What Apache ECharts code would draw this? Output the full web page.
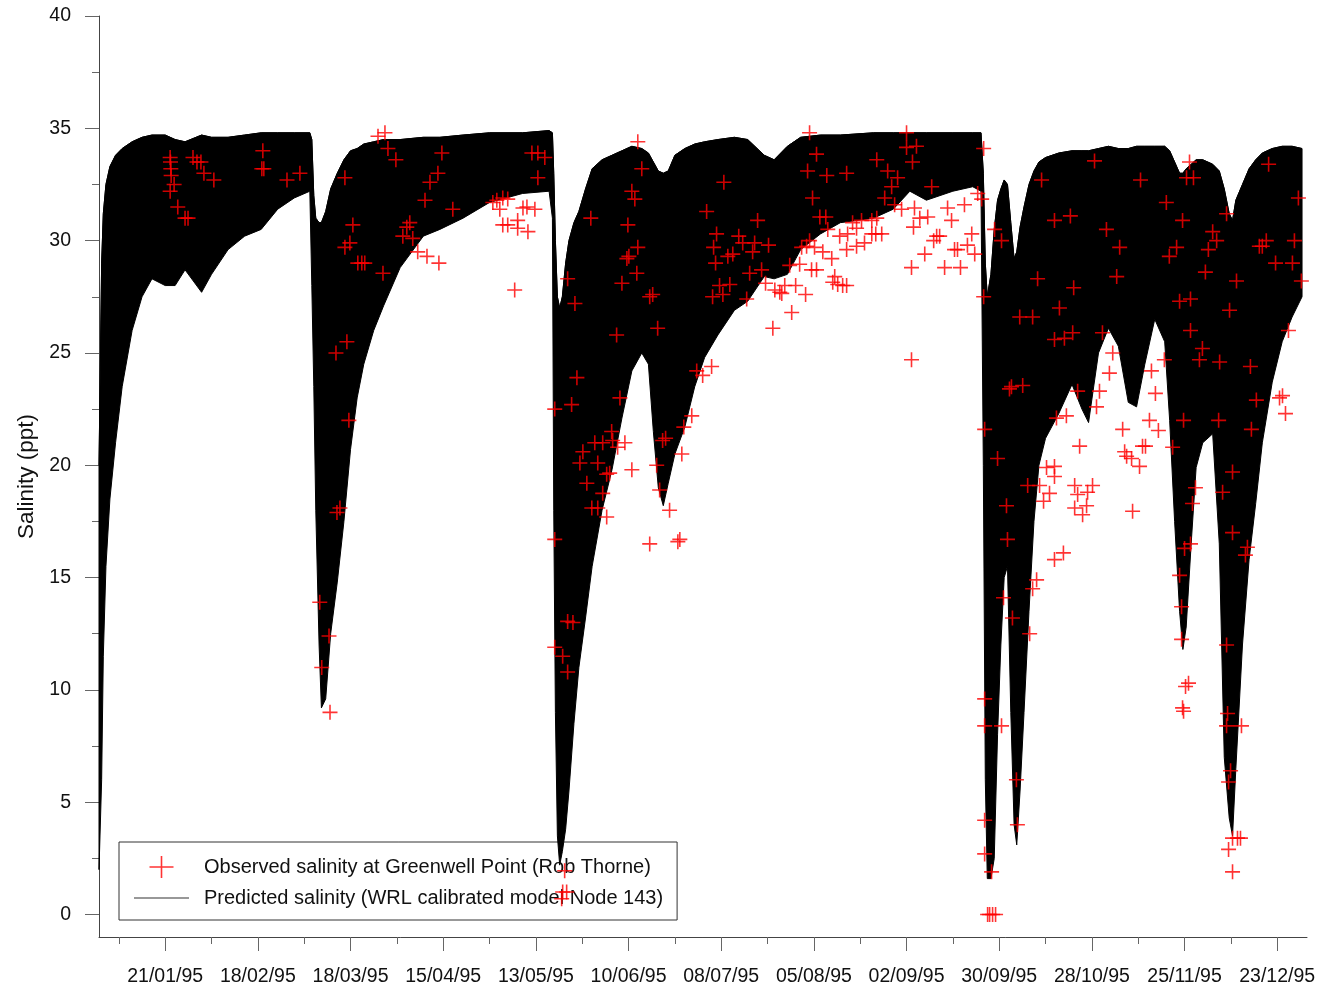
<!DOCTYPE html>
<html>
<head>
<meta charset="utf-8">
<script src="https://cdn.jsdelivr.net/npm/echarts@6/dist/echarts.min.js"></script>
<style>
html,body{margin:0;padding:0;background:#fff;}
#chart{width:1321px;height:987px;}
</style>
</head>
<body>
<div id="chart"></div>
<script>
// ---- x axis: days since 1 Jan 1995 ----
const xTickDays = [20, 48, 76, 104, 132, 160, 188, 216, 244, 272, 300, 328, 356];
const xTickLabels = ['21/01/95','18/02/95','18/03/95','15/04/95','13/05/95','10/06/95','08/07/95',
                     '05/08/95','02/09/95','30/09/95','28/10/95','25/11/95','23/12/95'];
const xMinorTickDays = [6, 34, 62, 90, 118, 146, 174, 202, 230, 258, 286, 314, 342];

// ---- y axis ----
const yTickValues = [0, 5, 10, 15, 20, 25, 30, 35, 40];
const yMinorTickValues = [2.5, 7.5, 12.5, 17.5, 22.5, 27.5, 32.5, 37.5];

// ---- predicted salinity (tidal envelope: high / low water) ----
const predDay = [0, 0.8, 1.3, 2.1, 3.3, 5, 7, 10, 13, 16, 20, 23, 26, 31, 34, 39, 44, 49, 54, 59, 63.7,
  64.3, 64.9, 65.5, 66.5, 67.2, 68.5, 70, 72, 74, 76, 78, 80, 83, 86, 91, 98, 103, 110, 118, 128, 136,
  137, 137.4, 137.9, 138.5, 139.2, 140, 141, 142, 143.5, 145, 147, 149, 152, 155, 158, 161, 164, 166,
  167.5, 169, 170.5, 172, 174, 177, 180, 183, 187, 192, 196, 201, 204, 208, 212, 218, 224, 234, 240,
  245, 250, 258, 264, 266.5, 267.2, 267.8, 268.4, 269.5, 270.5, 271.5, 272.5, 273.5, 274.5, 275.5,
  276.5, 277.3, 278.3, 279.5, 281, 282.5, 284, 286, 290, 294, 297, 299, 302, 305, 308, 311, 313.5,
  316, 319, 322, 323.5, 325, 326.5, 327.5, 328.5, 330, 331.5, 333.5, 336.5, 338.5, 340, 341.5, 342.5,
  343.5, 345.5, 347.5, 349.5, 351.5, 354.5, 357.5, 360.5, 363.5];
const predHigh = [20, 29, 31.2, 32.5, 33.3, 33.8, 34.1, 34.4, 34.6, 34.7, 34.7, 34.5, 34.4, 34.7, 34.6,
  34.6, 34.7, 34.8, 34.8, 34.8, 34.8,
  34.5, 32, 31, 30.8, 30.8, 31.3, 32.3, 33.0, 33.6, 34.0, 34.1, 34.3, 34.4, 34.5, 34.5, 34.6, 34.6, 34.7,
  34.8, 34.8, 34.9,
  34.8, 33, 30, 27.5, 27, 27.5, 29, 30, 30.8, 31.3, 32.3, 33.2, 33.6, 33.8, 34.0, 34.2, 34.1, 33.9,
  33.5, 33.1, 33.0, 33.1, 33.8, 34.1, 34.3, 34.4, 34.5, 34.6, 34.5, 33.8, 33.6, 34.2, 34.6, 34.7, 34.7,
  34.8, 34.8, 34.8, 34.8, 34.8, 34.8, 34.8,
  33, 29, 27.5, 28.5, 30.5, 31.8, 32.3, 32.7, 32.5, 30.8, 29.2, 29.5, 30.6, 31.5, 32.5, 33.1, 33.5,
  33.7, 33.9, 34.0, 34.0, 34.0, 34.1, 34.2, 34.1, 34.1, 34.2, 34.2, 34.2, 34.2, 34.0, 33.5, 33.0, 33.0,
  33.2, 33.4, 33.6, 33.6, 33.4, 33.1, 32.3, 31.2, 30.9, 31.8, 32.5, 33.2, 33.6, 33.9, 34.1, 34.2, 34.2,
  34.1];
const predLow = [2.0, 6, 11.5, 15.5, 18.5, 21, 23.5, 26, 27.5, 28.3, 28.0, 28.0, 28.7, 27.7, 28.5, 29.6,
  30.2, 30.5, 31.4, 31.9, 32.2,
  28, 23.5, 18, 12, 9.2, 9.6, 12.5, 14.8, 17.5, 20.7, 23, 24.5, 26, 27.1, 28.8, 30.2, 30.5, 31.0, 31.7,
  32.1, 32.2,
  31, 18, 9, 3.5, 2.2, 2.8, 3.8, 5.5, 8.5, 11, 13.2, 15.5, 18, 19.8, 22.1, 24.2, 25.0, 24.5, 21.5, 19,
  18.2, 19.2, 20.5, 21.7, 23.5, 24.8, 25.8, 26.9, 27.3, 28.4, 28.3, 28.5, 29.6, 30.3, 30.8, 31.0, 31.4,
  32.2, 31.8, 32.2, 32.4, 32.2,
  20, 6, 1.6, 1.6, 2.5, 8, 12, 15, 15.5, 9, 4.0, 3.1, 5.5, 9, 13.5, 17.5, 20, 21.2, 22.3, 23.6, 22.5,
  21.9, 25, 26.1, 25.3, 22.8, 22.6, 24.5, 26.5, 25.5, 22, 17.5, 13.5, 11.8, 12.8, 16.5, 19.9, 21, 21.4,
  16.5, 7, 4.3, 3.5, 6.5, 12, 15.8, 18.3, 21, 23.7, 25.5, 26.6, 27.5];

// ---- observed salinity (Greenwell Point) ----
const obsDay = [21.5, 21.6, 21.7, 21.8, 21.5, 22.7, 23.8, 26.0, 26.9, 28.4, 29.6, 30.8, 31.7, 34.7,
  49.5, 49.2, 49.8, 56.8, 60.7, 66.7, 67.3, 69.5, 69.8, 71.6, 71.9, 72.8, 74.9, 75.5, 74.3, 76.7, 74.3,
  75.8, 78.2, 79.4, 80.3, 85.8, 84.3, 86.4, 87.3, 89.7, 91.8, 93.0, 93.9, 94.8, 96.3, 99.1, 102.7, 98.5,
  100.0, 102.4, 103.6, 106.9, 119.0, 120.2, 121.1, 122.0, 123.5, 122.0, 123.5, 126.5, 126.5, 129.6,
  128.1, 129.3, 131.7, 130.8, 132.6, 134.7, 132.6, 125.6, 137.7, 137.7, 137.7, 140.1, 141.6, 143.2,
  141.6, 140.7, 140.1, 141.3, 139.8, 141.6, 143.8, 142.8, 144.4, 146.2, 145.3, 147.4, 148.6, 149.8,
  150.7, 148.9, 150.7, 152.2, 152.2, 153.4, 153.4, 154.3, 154.9, 155.2, 156.4, 156.7, 157.4, 158.0,
  158.9, 159.5, 160.1, 159.8, 161.0, 161.0, 161.9, 162.5, 162.8, 162.8, 164.0, 166.4, 167.3, 166.4,
  168.8, 168.5, 169.4, 170.3, 171.2, 172.4, 174.9, 175.5, 176.1, 176.7, 179.1, 180.6, 182.4, 183.6,
  185.1, 185.4, 185.7, 186.3, 186.6, 187.5, 188.5, 188.8, 190.0, 190.6, 191.5, 193.3, 194.5, 195.7,
  196.6, 197.5, 198.1, 199.0, 200.2, 201.4, 202.3, 203.6, 204.2, 205.7, 206.3, 207.2, 208.7, 209.3,
  210.5, 211.7, 212.3, 213.5, 213.8, 214.1, 214.7, 214.7, 215.3, 215.6, 216.2, 216.8, 216.8, 217.8,
  218.7, 219.6, 219.9, 220.2, 221.4, 221.7, 222.3, 223.2, 223.8, 224.7, 225.9, 225.9, 225.9, 226.2,
  227.7, 228.9, 228.9, 230.4, 231.3, 233.5, 233.5, 235.0, 234.7, 235.0, 236.5, 237.4, 238.3, 239.5,
  240.4, 241.3, 242.5, 244.0, 244.0, 247.0, 245.8, 245.5, 245.5, 246.1, 246.4, 248.0, 249.5, 250.4,
  251.6, 252.2, 253.1, 254.0, 255.5, 256.4, 257.6, 258.5, 259.4, 260.3, 261.5, 262.4, 263.7, 264.6,
  265.5, 266.7, 267.3, 267.3, 267.6, 267.6, 267.6, 267.6, 267.6, 269.7, 268.5, 269.1, 270.0, 270.9,
  270.6, 271.5, 272.7, 272.7, 273.3, 274.2, 274.5, 275.1, 275.7, 276.0, 277.2, 277.5, 278.2, 279.1,
  280.6, 281.2, 282.1, 282.1, 283.3, 283.6, 284.2, 284.8, 285.4, 286.3, 287.2, 288.7, 288.7, 288.7,
  288.7, 288.7, 289.3, 290.2, 291.4, 291.7, 292.3, 293.5, 294.2, 294.5, 294.8, 294.8, 295.7, 295.7,
  296.3, 297.2, 298.4, 298.7, 300.2, 300.8, 301.4, 302.3, 303.2, 304.4, 305.3, 306.3, 307.5, 308.4,
  309.3, 309.9, 310.5, 312.0, 312.3, 314.4, 314.7, 315.3, 316.2, 317.4, 318.0, 319.2, 320.1, 321.9,
  322.5, 323.4, 324.4, 325.6, 326.5, 326.5, 327.1, 327.1, 327.4, 327.4, 327.7, 327.7, 328.0, 328.3,
  328.6, 329.2, 329.5, 329.8, 329.8, 329.8, 330.4, 330.7, 331.3, 332.5, 333.4, 334.3, 335.2, 336.5,
  337.7, 338.3, 338.6, 339.5, 340.7, 340.7, 340.7, 341.0, 341.3, 341.3, 341.6, 341.9, 342.5, 342.5,
  342.5, 342.5, 343.7, 344.0, 344.9, 345.2, 346.4, 347.0, 347.9, 348.2, 349.7, 350.6, 351.5, 352.7,
  353.4, 355.5, 356.7, 357.6, 358.5, 359.4, 360.6, 361.2, 362.4, 363.3];
const obsSalinity = [33.7, 33.5, 33.2, 32.9, 32.2, 32.5, 31.5, 31.0, 31.0, 33.7, 33.5, 33.5, 33.0, 32.7,
  34.0, 33.2, 33.2, 32.7, 33.0, 13.9, 11.0, 12.4, 9.0, 25.0, 17.9, 18.1, 25.5, 22.0, 32.8, 30.7, 29.7,
  29.9, 29.0, 29.0, 29.0, 28.55, 34.65, 34.8, 34.1, 33.6, 30.2, 30.6, 30.8, 30.1, 29.5, 29.3, 29.0, 31.8,
  32.6, 33.0, 33.9, 31.4, 31.7, 31.8, 31.4, 31.9, 31.85, 30.7, 30.7, 30.9, 30.55, 30.4,
  31.45, 31.5, 31.4, 33.9, 33.9, 33.7, 32.8, 27.8, 22.5, 16.7, 11.9, 11.5, 13.05, 13.0,
  10.8, 1.95, 1.0, 1.0, 0.7, 28.3, 27.2, 22.7, 23.9, 20.6, 20.1, 19.2, 31.0, 21.0,
  20.1, 18.1, 18.1, 21.0, 18.75, 19.6, 17.7, 19.65, 21.5, 21.1, 25.8, 20.8, 23.0, 28.1,
  21.0, 29.2, 29.3, 30.7, 32.2, 19.8, 31.85, 28.55, 29.7, 34.4, 33.2, 27.5, 27.6, 16.5,
  26.1, 20.0, 18.9, 21.1, 21.2, 18.0, 16.6, 16.7, 20.5, 21.7, 22.2, 24.2, 24.0, 31.3,
  24.4, 27.5, 29.7, 29.0, 30.3, 28.0, 27.6, 32.6, 29.3, 28.05, 29.4, 30.2, 29.9, 27.4,
  28.55, 29.5, 29.9, 30.9, 28.7, 28.1, 29.8, 26.1, 27.8, 27.7, 27.65, 28.0, 28.9, 26.8,
  28.0, 28.95, 29.7, 27.6, 29.75, 33.1, 30.0, 34.8, 28.7, 31.9, 29.7, 33.85, 28.7, 31.05,
  29.5, 31.05, 32.9, 30.5, 29.2, 28.15, 28.4, 28.05, 30.2, 28.0, 28.0, 33.0, 29.6, 30.3,
  30.8, 30.55, 29.75, 30.9, 29.9, 30.9, 30.3, 31.0, 30.3, 33.6, 30.3, 31.9, 33.1, 32.4,
  31.6, 32.8, 31.4, 34.8, 34.15, 34.2, 33.5, 28.8, 24.7, 30.6, 31.45, 31.0, 29.4, 31.05,
  32.4, 30.0, 30.2, 30.2, 28.8, 31.45, 30.9, 29.6, 29.6, 28.8, 31.6, 29.8, 30.3, 29.4,
  32.1, 31.85, 34.1, 27.5, 21.6, 9.6, 8.4, 4.2, 2.7, 1.9, 0, 0, 0, 0,
  30.5, 20.3, 30.0, 8.4, 14.1, 18.2, 16.7, 23.4, 23.5, 13.2, 6.0, 4.0, 26.6, 23.55,
  19.1, 12.5, 26.6, 14.5, 14.9, 28.3, 19.1, 32.7, 18.4, 19.9, 18.75, 30.9, 25.6, 19.95,
  19.5, 15.8, 22.1, 27.0, 16.1, 25.65, 22.2, 31.1, 25.9, 27.9, 19.1, 18.1, 23.3, 18.7,
  20.85, 17.8, 18.2, 18.8, 19.1, 33.55, 22.6, 23.3, 25.9, 30.5, 24.1, 25.0, 28.4, 29.7,
  21.6, 20.6, 20.4, 20.3, 17.95, 19.95, 32.7, 20.85, 20.85, 22.0, 24.2, 23.2, 21.55, 24.7,
  31.7, 29.3, 20.8, 29.7, 27.3, 15.1, 13.7, 12.25, 30.9, 9.2, 9.05, 22.0, 16.3, 10.15,
  32.8, 10.3, 33.5, 27.4, 26.0, 16.5, 18.3, 32.8, 19.0, 24.7, 25.2, 28.6, 29.6, 30.4,
  30.0, 22.0, 24.6, 18.8, 31.2, 12.0, 8.4, 8.95, 5.9, 2.9, 26.9, 6.4, 19.7, 17.0,
  3.4, 1.9, 28.2, 3.4, 3.4, 8.4, 16.0, 16.35, 24.4, 21.6, 22.9, 29.75, 29.75, 30.0,
  33.4, 29.0, 23.0, 23.1, 22.3, 26.0, 29.0, 30.0, 31.9, 28.2];

const obsName = 'Observed salinity at Greenwell Point (Rob Thorne)';
const predName = 'Predicted salinity (WRL calibrated model Node 143)';

// ---- build chart ----
const crossSymbol = 'path://M0,6.7h15v1.6h-15z M6.7,0h1.6v15h-1.6z';
const legendCross = 'path://M0,0L0,0M55,22L55,22M15.5,10.2h24v1.6h-24zM26.7,0h1.6v22h-1.6z';
const legendLine = 'path://M0,0L0,0M55,22L55,22M0,10.5h55v1h-55z';
const FONT = '"Liberation Sans", Arial, Helvetica, sans-serif';

const highData = predDay.map((d, i) => [d, predHigh[i]]);
const obsData = obsDay.map((d, i) => [d, obsSalinity[i]]);

const chart = echarts.init(document.getElementById('chart'), null, {renderer: 'canvas'});

const axisColor = '#444';
const tickColor = '#666';

function renderBand(params, api) {
  const pts = [];
  for (let i = 0; i < predDay.length; i++) pts.push(api.coord([predDay[i], predHigh[i]]));
  for (let i = predDay.length - 1; i >= 0; i--) pts.push(api.coord([predDay[i], predLow[i]]));
  return {
    type: 'polygon',
    shape: {points: pts},
    style: {fill: '#000', stroke: '#000', lineWidth: 1}
  };
}

const option = {
  animation: false,
  backgroundColor: '#ffffff',
  textStyle: {fontFamily: FONT},
  grid: {left: 99, right: 14, top: 16, bottom: 50, containLabel: false},
  legend: {
    orient: 'vertical', left: 119, top: 842, z: 1,
    padding: [14, 14, 11, 15], itemGap: 9, itemWidth: 55, itemHeight: 22,
    borderColor: '#333', borderWidth: 1, backgroundColor: 'rgba(255,255,255,0)',
    selectedMode: false,
    textStyle: {fontSize: 20, color: '#111', fontFamily: FONT, padding: [0, 0, 0, 10]},
    data: [
      {name: obsName, icon: legendCross, itemStyle: {color: '#ff0000', borderWidth: 0}},
      {name: predName, icon: legendLine, itemStyle: {color: '#333', borderWidth: 0}}
    ]
  },
  xAxis: [
    {
      type: 'value', min: 0, max: 365, position: 'bottom',
      axisLine: {show: true, onZero: false, lineStyle: {color: axisColor, width: 1}},
      axisTick: {show: true, customValues: xTickDays, length: 14, lineStyle: {color: tickColor}},
      axisLabel: {
        show: true, customValues: xTickDays, margin: 30, fontSize: 19.5, color: '#111', fontFamily: FONT,
        formatter: v => { const i = xTickDays.indexOf(Math.round(v)); return i >= 0 ? xTickLabels[i] : ''; }
      },
      splitLine: {show: false}
    },
    {
      type: 'value', min: 0, max: 365, position: 'bottom',
      axisLine: {show: false, onZero: false},
      axisTick: {show: true, customValues: xMinorTickDays, length: 7, lineStyle: {color: tickColor}},
      axisLabel: {show: false},
      splitLine: {show: false}
    }
  ],
  yAxis: [
    {
      type: 'value', min: -1, max: 40, position: 'left',
      name: 'Salinity (ppt)', nameLocation: 'middle', nameGap: 61,
      nameTextStyle: {fontSize: 22.5, color: '#111', fontFamily: FONT},
      axisLine: {show: true, onZero: false, lineStyle: {color: axisColor, width: 1}},
      axisTick: {show: true, customValues: yTickValues, length: 14, lineStyle: {color: tickColor}},
      axisLabel: {show: true, customValues: yTickValues, margin: 28, fontSize: 19.5, color: '#111', fontFamily: FONT},
      splitLine: {show: false}
    },
    {
      type: 'value', min: -1, max: 40, position: 'left',
      axisLine: {show: false, onZero: false},
      axisTick: {show: true, customValues: yMinorTickValues, length: 7, lineStyle: {color: tickColor}},
      axisLabel: {show: false},
      splitLine: {show: false}
    }
  ],
  series: [
    {
      name: 'predBand', type: 'custom', data: [[0, 0]], encode: {x: 0, y: 1},
      xAxisIndex: 0, yAxisIndex: 0, silent: true, z: 2,
      renderItem: renderBand
    },
    {
      name: predName, type: 'line', data: highData,
      xAxisIndex: 0, yAxisIndex: 0,
      symbol: 'none', showSymbol: false, silent: true,
      color: '#000',
      lineStyle: {width: 1, color: '#000'},
      z: 2
    },
    {
      name: obsName, type: 'scatter', data: obsData,
      xAxisIndex: 0, yAxisIndex: 0,
      symbol: crossSymbol, symbolSize: 15,
      itemStyle: {color: '#ff0000'},
      silent: true, z: 3
    }
  ]
};
chart.setOption(option);
</script>
</body>
</html>
